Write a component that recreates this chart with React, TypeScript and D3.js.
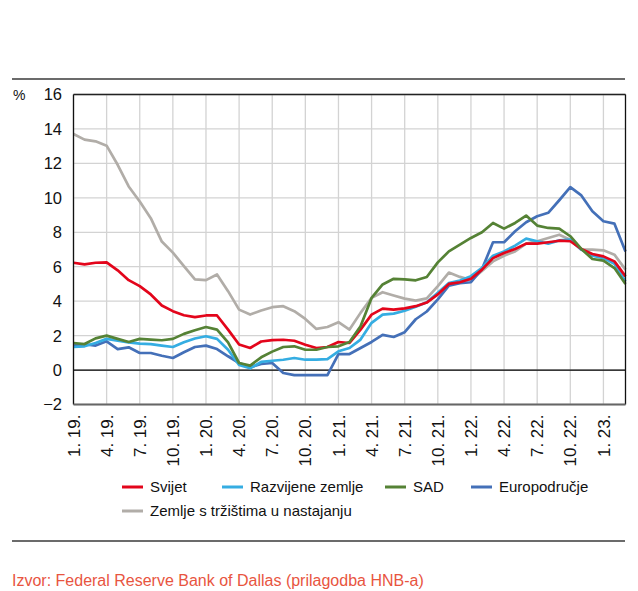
import * as d3 from 'd3'

// monthly, 1.19. - 3.23.
const svijet = [6.23, 6.14, 6.23, 6.25, 5.79, 5.22, 4.87, 4.39, 3.75, 3.42, 3.18, 3.07, 3.17, 3.17, 2.35, 1.48, 1.28, 1.66, 1.74, 1.76, 1.7, 1.47, 1.28, 1.34, 1.63, 1.57, 2.35, 3.22, 3.57, 3.51, 3.58, 3.71, 3.92, 4.39, 5.0, 5.1, 5.3, 5.83, 6.5, 6.8, 7.03, 7.34, 7.34, 7.42, 7.51, 7.48, 7.03, 6.74, 6.6, 6.31, 5.44]
const razvijene = [1.34, 1.38, 1.57, 1.81, 1.71, 1.61, 1.53, 1.51, 1.42, 1.34, 1.61, 1.83, 1.96, 1.81, 1.18, 0.3, 0.1, 0.47, 0.54, 0.6, 0.7, 0.6, 0.6, 0.64, 1.09, 1.28, 1.77, 2.74, 3.22, 3.28, 3.44, 3.67, 3.94, 4.49, 5.05, 5.2, 5.45, 5.93, 6.64, 6.89, 7.22, 7.63, 7.48, 7.34, 7.53, 7.57, 6.99, 6.64, 6.5, 6.17, 5.15]
const sad = [1.57, 1.51, 1.84, 2.0, 1.81, 1.63, 1.81, 1.77, 1.73, 1.81, 2.1, 2.31, 2.5, 2.35, 1.61, 0.41, 0.26, 0.74, 1.07, 1.34, 1.38, 1.18, 1.18, 1.34, 1.38, 1.63, 2.54, 4.19, 4.97, 5.3, 5.26, 5.21, 5.4, 6.25, 6.89, 7.28, 7.67, 8.0, 8.54, 8.21, 8.54, 8.97, 8.39, 8.25, 8.21, 7.77, 7.03, 6.45, 6.35, 5.92, 5.0]
const europodrucje = [1.42, 1.5, 1.42, 1.67, 1.22, 1.32, 0.99, 0.99, 0.83, 0.7, 1.03, 1.34, 1.42, 1.22, 0.8, 0.41, 0.17, 0.35, 0.41, -0.17, -0.29, -0.29, -0.29, -0.29, 0.93, 0.93, 1.28, 1.63, 2.04, 1.92, 2.2, 2.95, 3.4, 4.1, 4.9, 5.05, 5.1, 5.86, 7.42, 7.42, 8.06, 8.58, 8.93, 9.13, 9.86, 10.62, 10.14, 9.22, 8.64, 8.5, 6.89]
const trzista = [13.71, 13.38, 13.28, 13.03, 11.92, 10.66, 9.79, 8.82, 7.46, 6.82, 6.04, 5.26, 5.22, 5.55, 4.58, 3.51, 3.22, 3.46, 3.65, 3.71, 3.42, 2.97, 2.39, 2.5, 2.78, 2.35, 3.32, 4.19, 4.52, 4.33, 4.15, 4.03, 4.16, 4.87, 5.66, 5.41, 5.22, 5.76, 6.31, 6.64, 6.89, 7.34, 7.48, 7.67, 7.86, 7.57, 6.99, 6.99, 6.95, 6.7, 5.83]

const tickLabels = ['1. 19.', '4. 19.', '7. 19.', '10. 19.', '1. 20.', '4. 20.', '7. 20.', '10. 20.', '1. 21.', '4. 21.', '7. 21.', '10. 21.', '1. 22.', '4. 22.', '7. 22.', '10. 22.', '1. 23.']
const yTicks = [-2, 0, 2, 4, 6, 8, 10, 12, 14, 16]

const series = [
    { name: 'Zemlje s tržištima u nastajanju', values: trzista, color: '#b1ada8' },
    { name: 'Europodručje', values: europodrucje, color: '#4470b8' },
    { name: 'Razvijene zemlje', values: razvijene, color: '#35ade2' },
    { name: 'Svijet', values: svijet, color: '#e3051b' },
    { name: 'SAD', values: sad, color: '#558235' },
]

const legendRows = [
    ['Svijet', 'Razvijene zemlje', 'SAD', 'Europodručje'],
    ['Zemlje s tržištima u nastajanju'],
]
const legendX = [122, 222, 385, 471]

const font = '"Liberation Sans Narrow", "Arial Narrow", "Liberation Sans", sans-serif'

export default function App() {
    const left = 73.5, right = 625.5, top = 94.5, bottom = 404.5
    const x = d3.scaleLinear().domain([0, svijet.length - 1]).range([left, right])
    const y = d3.scaleLinear().domain([-2, 16]).range([bottom, top])
    const line = d3.line<number>().x((_, i) => x(i)).y(d => y(d))

    return (
        <svg width={638} height={591} style={{ position: 'absolute', left: 0, top: 0 }} fontFamily={font}>
            <rect width={638} height={591} fill="#fff" />
            <line x1={12} x2={625} y1={79} y2={79} stroke="#6b6b6b" strokeWidth={2} />

            {/* grid */}
            {tickLabels.map((_, k) => (
                <line key={'v' + k} x1={x(k * 3)} x2={x(k * 3)} y1={top} y2={bottom} stroke="#d3d3d3" strokeWidth={1.3} />
            ))}
            {yTicks.map(t => (
                <line key={'h' + t} x1={left} x2={right} y1={y(t)} y2={y(t)} stroke="#d3d3d3" strokeWidth={1.3} />
            ))}
            <line x1={left} x2={right} y1={y(0)} y2={y(0)} stroke="#000" strokeWidth={1.2} />

            {series.map(s => (
                <path key={s.name} d={line(s.values) || ''} fill="none" stroke={s.color} strokeWidth={2.7} strokeLinejoin="round" />
            ))}

            {/* frame */}
            <line x1={left} x2={right} y1={top} y2={top} stroke="#222" strokeWidth={1.3} />
            <line x1={right} x2={right} y1={top} y2={bottom} stroke="#111" strokeWidth={1.3} />
            <line x1={left} x2={left} y1={top} y2={bottom} stroke="#111" strokeWidth={1.3} />
            <line x1={left} x2={right} y1={bottom} y2={bottom} stroke="#666" strokeWidth={2} />

            {yTicks.map(t => (
                <text key={'yl' + t} x={62} y={y(t)} dy="0.36em" textAnchor="end" fontSize={16.5} fill="#111">
                    {t < 0 ? '−' + Math.abs(t) : t}
                </text>
            ))}
            <text x={13} y={y(16)} dy="0.36em" fontSize={14} fill="#111">%</text>

            {tickLabels.map((lab, k) => (
                <text key={'xl' + k} transform={`translate(${x(k * 3)},${bottom + 10}) rotate(-90)`} dy="0.36em" textAnchor="end" fontSize={17} fill="#111">
                    {lab}
                </text>
            ))}

            {/* legend */}
            {legendRows.map((row, r) => row.map((name, c) => {
                const s = series.find(d => d.name === name)!
                const ly = 487 + r * 24
                return (
                    <g key={name} transform={`translate(${legendX[c]},${ly})`}>
                        <line x1={0} x2={21} y1={0} y2={0} stroke={s.color} strokeWidth={3} />
                        <text x={28} y={0} dy="0.36em" fontSize={15} fill="#111">{name}</text>
                    </g>
                )
            }))}

            <line x1={12} x2={625} y1={541} y2={541} stroke="#6b6b6b" strokeWidth={2} />
            <text x={12} y={586} fontSize={16} fill="#e8553f" fontFamily='"Liberation Sans", Arial, sans-serif'>
                Izvor: Federal Reserve Bank of Dallas (prilagodba HNB-a)
            </text>
        </svg>
    )
}
